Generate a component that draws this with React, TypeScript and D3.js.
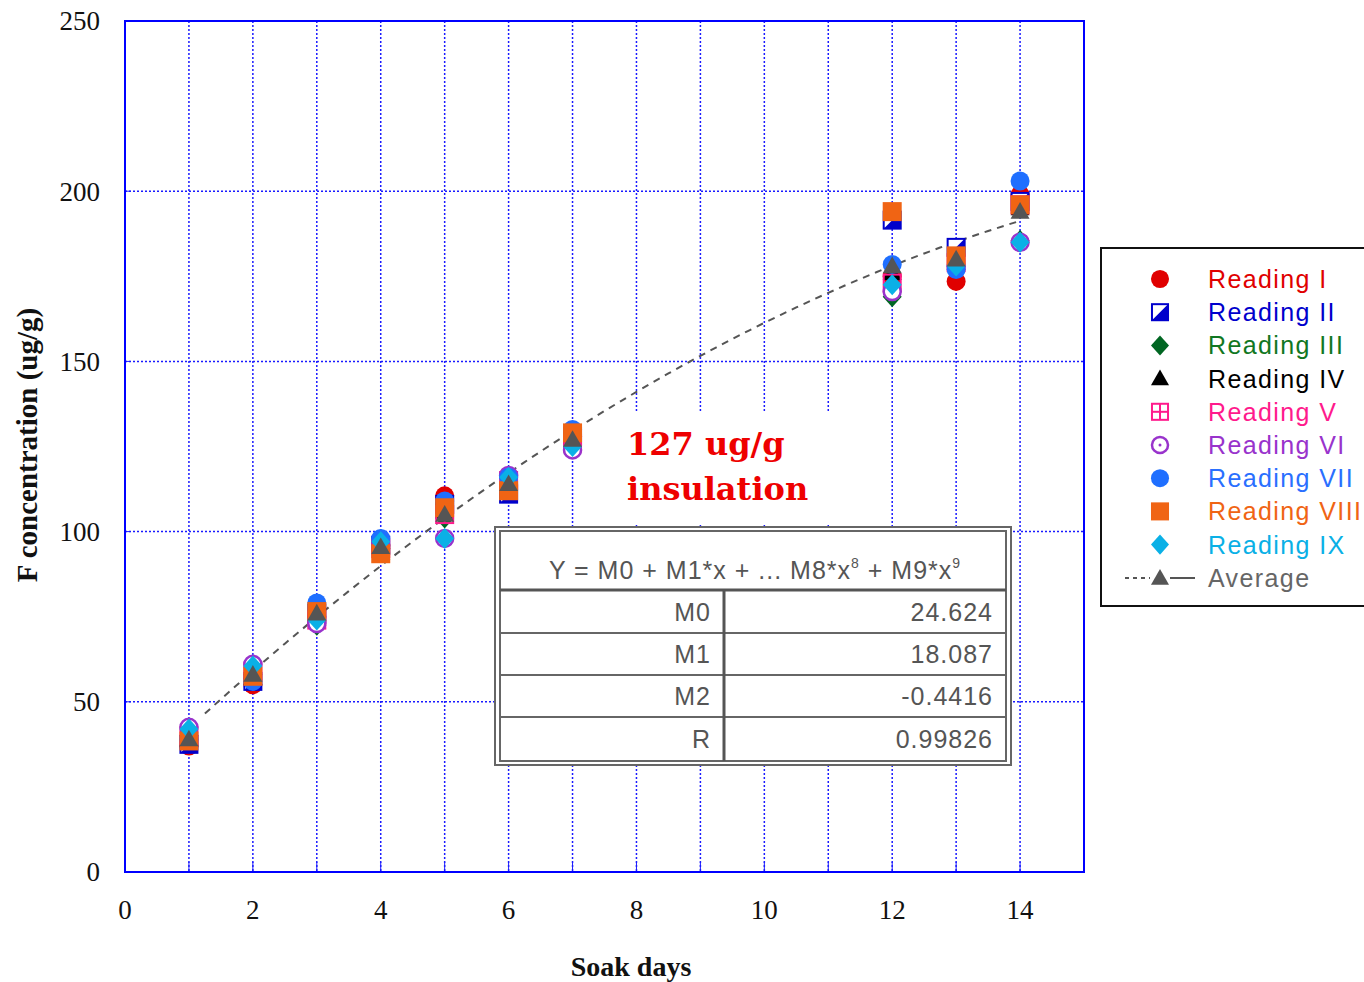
import React from 'react';
import * as d3 from 'd3';

// soak days and the nine readings (ug/g)
const days = [1, 2, 3, 4, 5, 6, 7, 12, 13, 14];
const readingI = [37, 55, 75, 95, 110.5, 114, 128, 175, 173.5, 199];
const readingII = [37.5, 56, 76, 96, 108, 111, 128, 191.5, 183.5, 197];
const readingIII = [40, 58, 72.5, 95, 104, 114, 127, 169, 178, 185.5];
const readingIV = [39, 57, 75, 96, 106, 114, 128, 176, 179, 195];
const readingV = [40, 59, 74, 95, 105, 115, 126, 173, 179, 196];
const readingVI = [42.5, 61, 73, 96, 98, 116.5, 124, 170.5, 178, 185];
const readingVII = [39, 56, 79, 98, 109, 116, 130, 178.5, 177, 203];
const readingVIII = [38.5, 57.5, 76.5, 93.5, 107, 112, 129, 194, 181, 196];
const readingIX = [42, 60.5, 74, 97, 98, 116, 125, 172.5, 178, 185];
const average = [39, 58, 76, 95.5, 105, 114, 127, 178, 180, 194];

const xTicks = [0, 2, 4, 6, 8, 10, 12, 14];
const yTicks = [0, 50, 100, 150, 200, 250];

// fit coefficients shown in the table
const fitNames = ['M0', 'M1', 'M2', 'R'];
const fitValues = ['24.624', '18.087', '-0.4416', '0.99826'];
const coef = [24.624, 18.087, -0.4416];

const series = [
  { name: 'Reading I', values: readingI, shape: 'circle', color: '#e00000', text: '#e00000' },
  { name: 'Reading II', values: readingII, shape: 'halfsquare', color: '#0000cc', text: '#0000cc' },
  { name: 'Reading III', values: readingIII, shape: 'diamond', color: '#006622', text: '#117722' },
  { name: 'Reading IV', values: readingIV, shape: 'triangle', color: '#000000', text: '#000000' },
  { name: 'Reading V', values: readingV, shape: 'crosssquare', color: '#ff1a8c', text: '#ff1a8c' },
  { name: 'Reading VI', values: readingVI, shape: 'ringdot', color: '#9933cc', text: '#9933cc' },
  { name: 'Reading VII', values: readingVII, shape: 'circle', color: '#1f6fff', text: '#2a6fff' },
  { name: 'Reading VIII', values: readingVIII, shape: 'square', color: '#f06414', text: '#f06414' },
  { name: 'Reading IX', values: readingIX, shape: 'diamond', color: '#0ab0e6', text: '#0ab0e6' },
];

const Marker = ({ shape, color, x, y, s = 1 }) => {
  const r = 9.5 * s;
  switch (shape) {
    case 'circle':
      return <circle cx={x} cy={y} r={r} fill={color} />;
    case 'square':
      return <rect x={x - r} y={y - r} width={2 * r} height={2 * r} fill={color} />;
    case 'halfsquare':
      return (
        <g>
          <rect x={x - r + 1} y={y - r + 1} width={2 * r - 2} height={2 * r - 2} fill="#fff" stroke={color} strokeWidth={2} />
          <path d={`M${x + r - 1},${y - r + 1}L${x + r - 1},${y + r - 1}L${x - r + 1},${y + r - 1}Z`} fill={color} />
        </g>
      );
    case 'crosssquare':
      return (
        <g stroke={color} strokeWidth={2} fill="none">
          <rect x={x - r + 1} y={y - r + 1} width={2 * r - 2} height={2 * r - 2} />
          <line x1={x} x2={x} y1={y - r + 1} y2={y + r - 1} />
          <line x1={x - r + 1} x2={x + r - 1} y1={y} y2={y} />
        </g>
      );
    case 'diamond':
      return <path d={`M${x},${y - r - 1}L${x + r},${y}L${x},${y + r + 1}L${x - r},${y}Z`} fill={color} />;
    case 'triangle':
      return <path d={`M${x},${y - r}L${x + r},${y + r * 0.75}L${x - r},${y + r * 0.75}Z`} fill={color} />;
    case 'ringdot':
      return (
        <g>
          <circle cx={x} cy={y} r={r - 1} fill="#fff" stroke={color} strokeWidth={2.5} />
          <circle cx={x} cy={y} r={1.5} fill={color} />
        </g>
      );
    default:
      return null;
  }
};

export default function App() {
  const left = 125, right = 1084, top = 21, bottom = 872;
  const x = d3.scaleLinear().domain([0, 15]).range([left, right]);
  const y = d3.scaleLinear().domain([0, 250]).range([bottom, top]);

  const fit = d3.range(1.25, 14.01, 0.25).map(d => [d, coef[0] + coef[1] * d + coef[2] * d * d]);
  const fitLine = d3.line().x(d => x(d[0])).y(d => y(d[1]));

  const grid = '#1a1aff';
  const serif = '"Liberation Serif", "Times New Roman", serif';
  const sans = '"Liberation Sans", Arial, sans-serif';

  const tableRows = [590, 633, 675, 717, 761];

  return (
    <svg width={1364} height={982} style={{ position: 'absolute', left: 0, top: 0, background: '#fff' }}>
      {/* gridlines */}
      {d3.range(1, 15).map(d => (
        <line key={'vx' + d} x1={x(d)} x2={x(d)} y1={top} y2={bottom} stroke={grid} strokeWidth={1.5} strokeDasharray="2,2" />
      ))}
      {[50, 100, 150, 200].map(d => (
        <line key={'hy' + d} x1={left} x2={right} y1={y(d)} y2={y(d)} stroke={grid} strokeWidth={1.5} strokeDasharray="2,2" />
      ))}
      {/* inward ticks */}
      {d3.range(0, 16).map(d => (
        <line key={'tx' + d} x1={x(d)} x2={x(d)} y1={bottom} y2={bottom - 10} stroke={grid} strokeWidth={1} />
      ))}
      {yTicks.map(d => (
        <line key={'ty' + d} x1={left} x2={left + 6} y1={y(d)} y2={y(d)} stroke={grid} strokeWidth={1} />
      ))}
      <rect x={left} y={top} width={right - left} height={bottom - top} fill="none" stroke="#0000ff" strokeWidth={2} />

      {/* tick labels */}
      {yTicks.map(d => (
        <text key={'yl' + d} x={100} y={y(d)} dy="0.35em" textAnchor="end" fontFamily={serif} fontSize={27} fill="#111">{d}</text>
      ))}
      {xTicks.map(d => (
        <text key={'xl' + d} x={x(d)} y={910} dy="0.35em" textAnchor="middle" fontFamily={serif} fontSize={27} fill="#111">{d}</text>
      ))}
      <text x={631} y={976} textAnchor="middle" fontFamily={serif} fontWeight="bold" fontSize={28} fill="#111">Soak days</text>
      <text transform="translate(37,445) rotate(-90)" textAnchor="middle" fontFamily={serif} fontWeight="bold" fontSize={29} fill="#111">F concentration (ug/g)</text>

      {/* white area behind annotation */}
      <rect x={618} y={412} width={212} height={112} fill="#fff" />

      {/* fit curve */}
      <path d={fitLine(fit)} fill="none" stroke="#555" strokeWidth={2} strokeDasharray="7,6" />

      {/* readings */}
      {series.map(s => (
        <g key={s.name}>
          {days.map((d, i) => (
            <Marker key={i} shape={s.shape} color={s.color} x={x(d)} y={y(s.values[i])} />
          ))}
        </g>
      ))}
      {days.map((d, i) => (
        <Marker key={'avg' + i} shape="triangle" color="#555" x={x(d)} y={y(average[i])} />
      ))}

      {/* annotation */}
      <text x={627} y={455} fontFamily='"DejaVu Serif", serif' fontWeight="bold" fontSize={32} fill="#ee0000">127 ug/g</text>
      <text x={627} y={500} fontFamily='"DejaVu Serif", serif' fontWeight="bold" fontSize={32} fill="#ee0000">insulation</text>

      {/* fit table */}
      <rect x={495} y={527} width={516} height={238} fill="#fff" stroke="#666" strokeWidth={2} />
      <rect x={500} y={531} width={506} height={230} fill="#fff" stroke="#666" strokeWidth={2} />
      <line x1={500} x2={1006} y1={590} y2={590} stroke="#555" strokeWidth={3} />
      {tableRows.slice(1, 4).map(r => (
        <line key={'tr' + r} x1={500} x2={1006} y1={r} y2={r} stroke="#666" strokeWidth={2} />
      ))}
      <line x1={724} x2={724} y1={590} y2={761} stroke="#555" strokeWidth={3} />
      <text x={755} y={579} textAnchor="middle" fontFamily={sans} fontSize={25} fill="#555" letterSpacing={1}>
        Y = M0 + M1*x + ... M8*x<tspan dy={-11} fontSize={14}>8</tspan><tspan dy={11}> + M9*x</tspan><tspan dy={-11} fontSize={14}>9</tspan>
      </text>
      {fitNames.map((n, i) => (
        <g key={n}>
          <text x={711} y={(tableRows[i] + tableRows[i + 1]) / 2} dy="0.36em" textAnchor="end" fontFamily={sans} fontSize={25} fill="#555" letterSpacing={1}>{n}</text>
          <text x={993} y={(tableRows[i] + tableRows[i + 1]) / 2} dy="0.36em" textAnchor="end" fontFamily={sans} fontSize={25} fill="#555" letterSpacing={1}>{fitValues[i]}</text>
        </g>
      ))}

      {/* legend */}
      <rect x={1101} y={248} width={290} height={358} fill="#fff" stroke="#111" strokeWidth={2} />
      {series.map((s, i) => (
        <g key={'lg' + s.name}>
          <Marker shape={s.shape} color={s.color} x={1160} y={279 + i * 33.2} s={0.95} />
          <text x={1208} y={279 + i * 33.2} dy="0.36em" fontFamily={sans} fontSize={25} fill={s.text} letterSpacing={1.4}>{s.name}</text>
        </g>
      ))}
      <line x1={1125} x2={1150} y1={578} y2={578} stroke="#555" strokeWidth={2} strokeDasharray="4,4" />
      <line x1={1170} x2={1195} y1={578} y2={578} stroke="#555" strokeWidth={2} />
      <Marker shape="triangle" color="#555" x={1160} y={578} s={0.95} />
      <text x={1208} y={578} dy="0.36em" fontFamily={sans} fontSize={25} fill="#666" letterSpacing={1.4}>Average</text>
    </svg>
  );
}
